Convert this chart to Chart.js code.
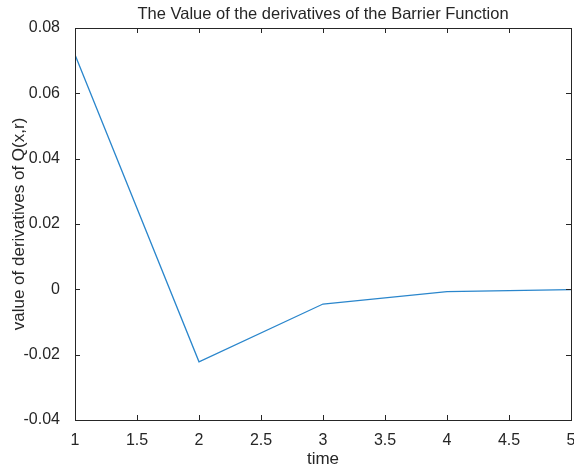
<!DOCTYPE html>
<html>
<head>
<meta charset="utf-8">
<script src="https://cdn.jsdelivr.net/npm/chart.js@4.4.0/dist/chart.umd.min.js"></script>
<style>
  html, body { margin: 0; padding: 0; background: #fff; }
  #wrap { width: 574px; height: 472px; }
</style>
</head>
<body>
<div id="wrap"><canvas id="c" width="574" height="472"></canvas></div>
<script>
var times = [1, 2, 3, 4, 5];
var values = [0.0718, -0.0222, -0.0045, -0.0007, -0.0001];

var chartTitle = "The Value of the derivatives of the Barrier Function";
var xTitle = "time";
var yTitle = "value of derivatives of Q(x,r)";

var axisColor = "#262626";
var fontFamily = "'Liberation Sans', Arial, Helvetica, sans-serif";

// box, inward ticks and titles like matlab
var matlabAxes = {
  id: "matlabAxes",
  afterDraw: function (chart) {
    var ctx = chart.ctx;
    var a = chart.chartArea;
    var xs = chart.scales.x;
    var ys = chart.scales.y;
    var tl = 5;
    ctx.save();
    ctx.strokeStyle = axisColor;
    ctx.lineWidth = 1;
    ctx.strokeRect(Math.round(a.left) + 0.5, Math.round(a.top) + 0.5,
      Math.round(a.right - a.left), Math.round(a.bottom - a.top));
    ctx.beginPath();
    xs.ticks.forEach(function (t) {
      var px = Math.round(xs.getPixelForValue(t.value)) + 0.5;
      ctx.moveTo(px, a.bottom);
      ctx.lineTo(px, a.bottom - tl);
      ctx.moveTo(px, a.top);
      ctx.lineTo(px, a.top + tl);
    });
    ys.ticks.forEach(function (t) {
      var py = Math.round(ys.getPixelForValue(t.value)) + 0.5;
      ctx.moveTo(a.left, py);
      ctx.lineTo(a.left + tl, py);
      ctx.moveTo(a.right, py);
      ctx.lineTo(a.right - tl, py);
    });
    ctx.stroke();

    ctx.fillStyle = axisColor;
    ctx.textAlign = "center";
    ctx.textBaseline = "middle";
    ctx.font = "16.5px " + fontFamily;
    ctx.fillText(chartTitle, (a.left + a.right) / 2, 14);
    ctx.font = "17px " + fontFamily;
    ctx.fillText(xTitle, (a.left + a.right) / 2, 459);
    ctx.translate(19, (a.top + a.bottom) / 2);
    ctx.rotate(-Math.PI / 2);
    ctx.fillText(yTitle, 0, 0);
    ctx.restore();
  }
};

new Chart(document.getElementById("c"), {
  type: "scatter",
  data: {
    datasets: [
      {
        data: times.map(function (t, i) { return { x: t, y: values[i] }; }),
        showLine: true,
        borderColor: "#2a86cc",
        borderWidth: 1.3,
        pointRadius: 0,
        fill: false,
      },
    ],
  },
  options: {
    responsive: false,
    animation: false,
    layout: { padding: { top: 28, right: 3, left: 0, bottom: 0 } },
    plugins: { legend: { display: false }, tooltip: { enabled: false } },
    scales: {
      x: {
        type: "linear",
        min: 1,
        max: 5,
        ticks: {
          stepSize: 0.5,
          color: axisColor,
          font: { size: 16, family: fontFamily },
          padding: 3,
          maxRotation: 0,
          callback: function (v) { return String(v); },
        },
        grid: { display: false },
        border: { display: false },
        afterFit: function (s) { s.height = 52; s.paddingLeft = 0; s.paddingRight = 0; },
      },
      y: {
        min: -0.04,
        max: 0.08,
        ticks: { stepSize: 0.02, color: axisColor, font: { size: 16, family: fontFamily }, padding: 7 },
        grid: { display: false },
        border: { display: false },
        afterFit: function (s) { s.width = 75; s.paddingTop = 0; s.paddingBottom = 0; },
      },
    },
  },
  plugins: [matlabAxes],
});
</script>
</body>
</html>
